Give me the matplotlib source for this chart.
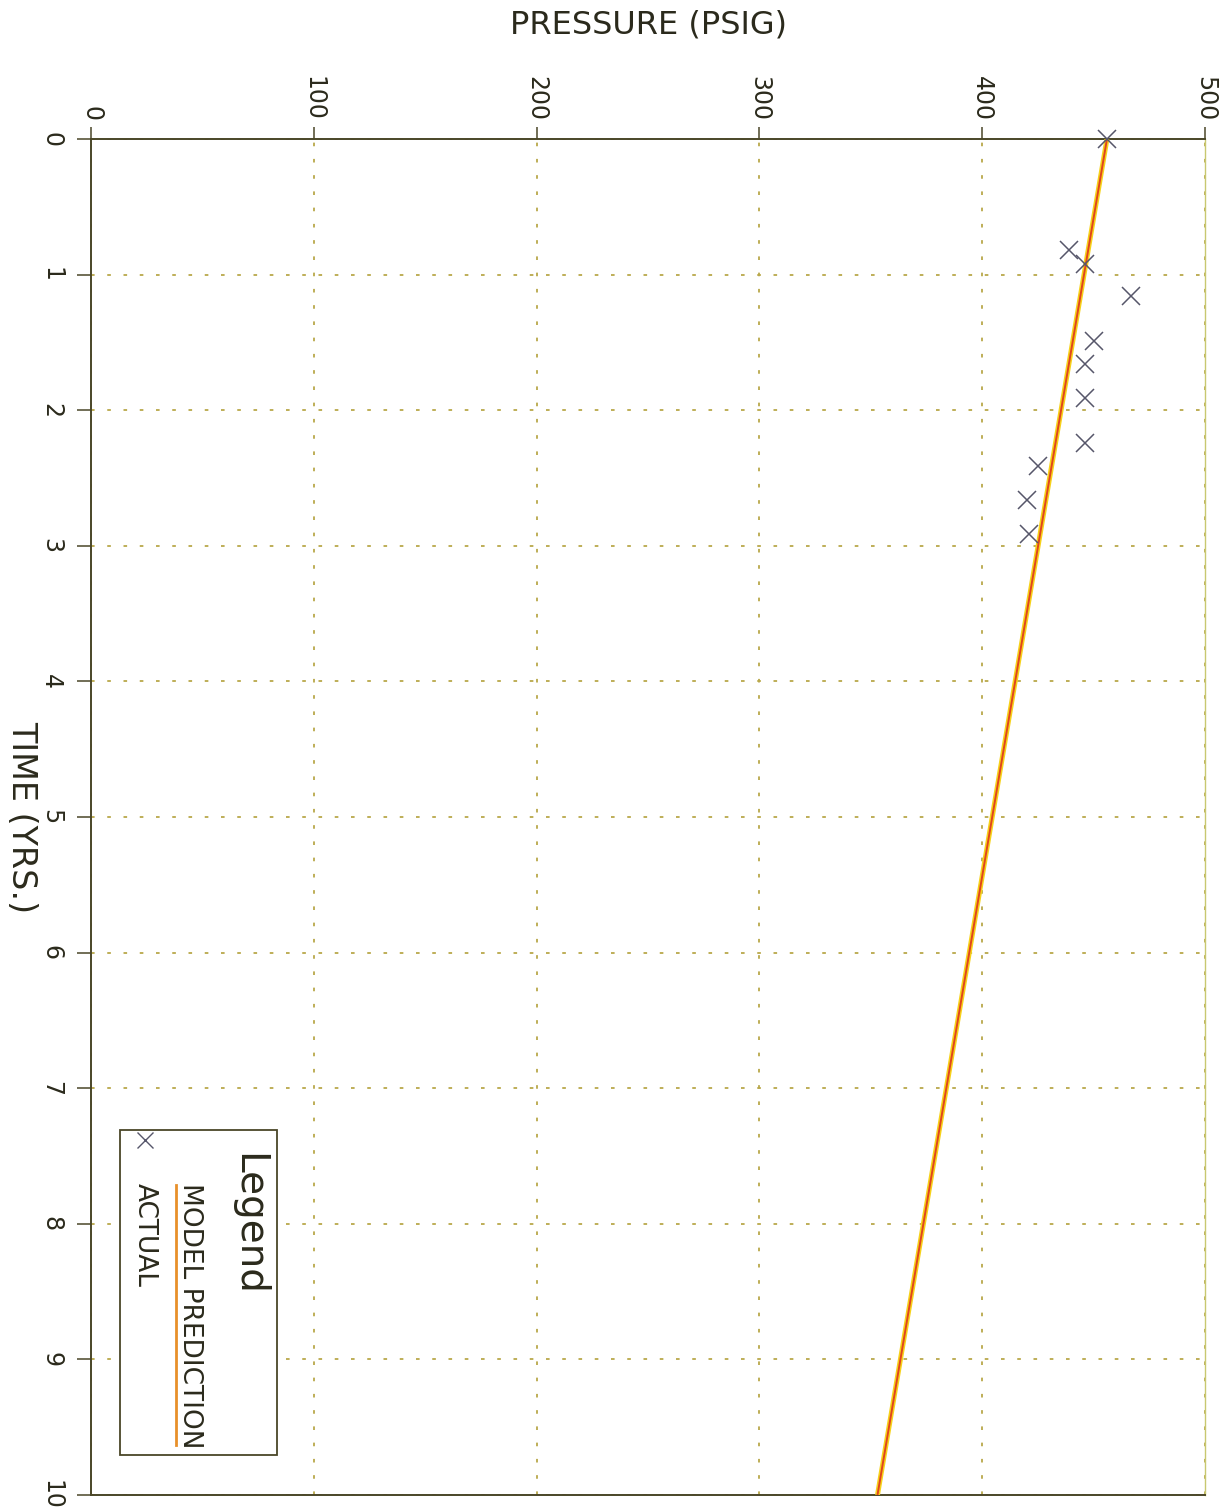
import matplotlib
matplotlib.use("Agg")
import matplotlib.pyplot as plt
from matplotlib.patches import Rectangle
from matplotlib.lines import Line2D

# ---- data ----
model_time = [0, 10]
model_pressure = [456, 353]
actual_time = [0.0, 0.82, 0.92, 1.16, 1.49, 1.66, 1.91, 2.24, 2.41, 2.66, 2.91]
actual_pressure = [456, 439, 446, 467, 450, 446, 446, 446, 425, 420, 421]
pressure_ticks = [0, 100, 200, 300, 400, 500]
time_ticks = [0, 1, 2, 3, 4, 5, 6, 7, 8, 9, 10]

W, H = 1228, 1511
fig = plt.figure(figsize=(W / 100, H / 100), dpi=100)
L, R, T, B = 91, 1205, 139, 1495
ax = fig.add_axes([L / W, 1 - B / H, (R - L) / W, (B - T) / H])

txt = '#2b2a1c'
spine_c = '#4a4628'
grid_c = '#b9a84a'

ax.plot(model_pressure, model_time, color='#f6d21a', lw=3.6, solid_capstyle='butt', zorder=3)
ax.plot(model_pressure, model_time, color='#e0451e', lw=1.4, solid_capstyle='butt', zorder=4)
ax.plot(actual_pressure, actual_time, linestyle='none', marker='x', markersize=13,
        markeredgewidth=1.1, color='#56566a', zorder=5, clip_on=False)

ax.set_xlim(0, 500)
ax.set_ylim(10, 0)
ax.xaxis.tick_top()
ax.set_xticks(pressure_ticks)
ax.set_yticks(time_ticks)
ax.set_xticklabels([str(v) for v in pressure_ticks], rotation=270, fontsize=17, color=txt)
ax.set_yticklabels([str(v) for v in time_ticks], rotation=270, fontsize=17, color=txt, va='center')
ax.tick_params(axis='x', direction='out', length=9, width=1.1, pad=4, colors=spine_c, labelcolor=txt)
ax.tick_params(axis='y', direction='out', length=10, width=1.1, pad=10, colors=spine_c, labelcolor=txt)

for s in ['top', 'left', 'bottom']:
    ax.spines[s].set_color(spine_c)
    ax.spines[s].set_linewidth(1.4)
ax.spines['right'].set_color('#c8c870')
ax.spines['right'].set_linewidth(1.0)

ax.grid(True, color=grid_c, linestyle=(0, (2, 7)), linewidth=1.3)
ax.set_axisbelow(True)

fig.text(648 / W, 1 - 25 / H, 'PRESSURE (PSIG)', ha='center', va='center', fontsize=23, color=txt)
fig.text(22 / W, 1 - 817 / H, 'TIME (YRS.)', ha='center', va='center', rotation=270, fontsize=24, color=txt)

# ---- rotated legend (figure pixel coords) ----
def fx(x):
    return x / W

def fy(y):
    return 1 - y / H

fig.patches.append(Rectangle((fx(120), fy(1455)), (277 - 120) / W, (1455 - 1130) / H,
                             transform=fig.transFigure, facecolor='white',
                             edgecolor=spine_c, linewidth=1.3, zorder=10))
fig.text(fx(248), fy(1153), 'Legend', rotation=270, ha='center', va='top', fontsize=28, color=txt, zorder=11)
fig.text(fx(190), fy(1183), 'MODEL PREDICTION', rotation=270, ha='center', va='top', fontsize=19, color=txt, zorder=11)
fig.lines.append(Line2D([fx(176), fx(176)], [fy(1185), fy(1445)], transform=fig.transFigure,
                        color='#e8902a', lw=2.0, zorder=11))
fig.text(fx(145), fy(1183), 'ACTUAL', rotation=270, ha='center', va='top', fontsize=19, color=txt, zorder=11)
fig.lines.append(Line2D([fx(145)], [fy(1140)], transform=fig.transFigure, marker='x',
                        markersize=11, markeredgewidth=1.0, color='#56566a', linestyle='none', zorder=11))

fig.savefig('out.png', dpi=100)
